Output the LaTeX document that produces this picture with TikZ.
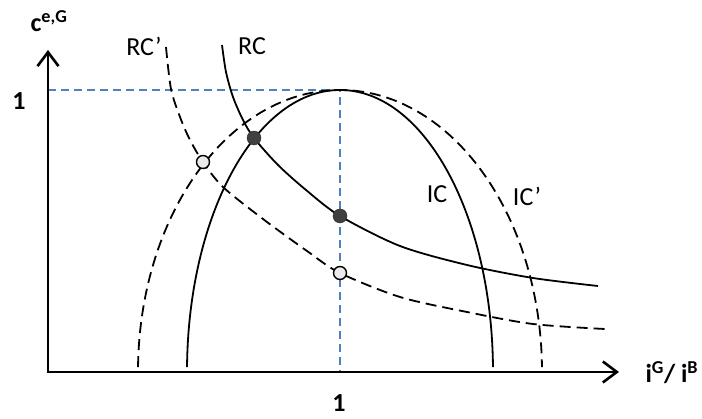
\documentclass[tikz,border=0pt]{standalone}
\usepackage{fontspec}
\setmainfont{Carlito}
\usetikzlibrary{arrows.meta}
\definecolor{guideblue}{RGB}{79,129,189}
\begin{document}
\begin{tikzpicture}[x=1pt,y=1pt,font=\fontsize{26}{30}\selectfont,
  curve/.style={line width=1.8pt},
  dashcurve/.style={curve,dash pattern=on 11pt off 6pt},
  guide/.style={guideblue,line width=1.4pt,dash pattern=on 8pt off 5pt},
  dotfull/.style={circle,draw=black!85,fill=black!75,inner sep=0pt,minimum size=14pt},
  dotopen/.style={circle,draw=black,line width=1.4pt,fill=black!8,inner sep=0pt,minimum size=13pt}]
  \useasboundingbox (-48,-47) rectangle (654,372);
  % guide lines to the peak
  \coordinate (O) at (0,0);
  \coordinate (peak) at (292,282);
  \draw[guide] (0,282) -- (peak) -- (292,0);
  % IC and IC'
  \draw[curve] (292,0) ++(179:153 and 282) arc[start angle=179,end angle=1,x radius=153,y radius=282];
  \draw[dashcurve] (292,0) ++(179:202 and 282) arc[start angle=179,end angle=1,x radius=202,y radius=282];
  % RC and RC'
  \draw[curve] plot[smooth] coordinates {(174,327) (178,300) (185,275) (195,252) (206,234) (230,207) (258,182) (292,156) (352,126) (419,107) (485,94) (550,86)};
  \draw[dashcurve] plot[smooth] coordinates {(118,325) (123,283) (132,255) (142,232) (155,210) (175,185) (215,153) (259,121) (292,99) (352,75) (419,60) (485,48) (557,43)};
  % equilibria
  \foreach \n/\p in {eqA/{(206,234)},eqB/{(292,156)}}
    \node[dotfull] (\n) at \p {};
  \foreach \n/\p in {eqC/{(155,210)},eqD/{(292,99)}}
    \node[dotopen] (\n) at \p {};
  % axes
  \draw[line width=2.6pt,{Straight Barb[length=14pt,width=21pt]}-{Straight Barb[length=14pt,width=21pt]}] (0,322) -- (O) -- (571,0);
  \node[anchor=base west] (ylab) at (-21,340) {\textbf{c}\textsuperscript{\textbf{e,G}}};
  \node[anchor=base west] (xlab) at (594,-11) {\textbf{i}\textsuperscript{\textbf{G}}\textbf{/ i}\textsuperscript{\textbf{B}}};
  \node (yone) at (-29,271) {\textbf{1}};
  \node (xone) at (291,-31) {\textbf{1}};
  % curve labels
  \node (rcp) at (96,326) {RC’};
  \node (rc) at (204,326) {RC};
  \node (ic) at (389,178) {IC};
  \node (icp) at (479,176) {IC’};
\end{tikzpicture}
\end{document}
